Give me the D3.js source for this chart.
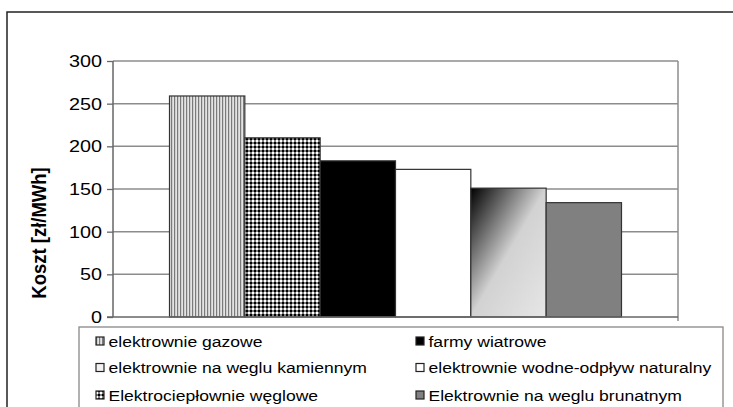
<!DOCTYPE html>
<html><head><meta charset="utf-8">
<script src="https://cdn.jsdelivr.net/npm/d3@7"></script>
<style>body{margin:0;background:#fff}svg{display:block}text{font-family:"Liberation Sans",Arial,sans-serif;fill:#000}</style>
</head><body>
<script>
// ---- data ----
const categories = ["elektrownie gazowe","Elektrociepłownie węglowe","farmy wiatrowe","elektrownie wodne-odpływ naturalny","elektrownie na weglu kamiennym","Elektrownie na weglu brunatnym"];
const values = [259, 210, 183, 173, 151, 134];
const fills = ["url(#stripes)","url(#checker)","#000000","#ffffff","url(#grad)","#808080"];
const legendOrder = ["elektrownie gazowe","farmy wiatrowe","elektrownie na weglu kamiennym","elektrownie wodne-odpływ naturalny","Elektrociepłownie węglowe","Elektrownie na weglu brunatnym"];
const legendSwatch = {"elektrownie na weglu kamiennym":"#f2f2f2"};
const yTicks = [0,50,100,150,200,250,300];
const yTitle = "Koszt [zł/MWh]";

const W=733,H=407;
const svg=d3.select("body").append("svg").attr("width",W).attr("height",H);
const defs=svg.append("defs");
const p1=defs.append("pattern").attr("id","stripes").attr("patternUnits","userSpaceOnUse").attr("width",3).attr("height",3);
p1.append("rect").attr("width",3).attr("height",3).attr("fill","#e4e4e4");
p1.append("rect").attr("width",1.2).attr("height",3).attr("fill","#7a7a7a");
const p2=defs.append("pattern").attr("id","checker").attr("patternUnits","userSpaceOnUse").attr("width",4).attr("height",4);
p2.append("rect").attr("width",4).attr("height",4).attr("fill","#808080");
p2.append("rect").attr("width",2).attr("height",2).attr("fill","#ffffff");
p2.append("rect").attr("x",2).attr("y",2).attr("width",2).attr("height",2).attr("fill","#000000");
const g1=defs.append("linearGradient").attr("id","grad").attr("x1",0).attr("y1",0).attr("x2",1).attr("y2",1);
g1.append("stop").attr("offset",0).attr("stop-color","#000");
g1.append("stop").attr("offset",0.5).attr("stop-color","#d2d2d2");
g1.append("stop").attr("offset",1).attr("stop-color","#e6e6e6");

function txt(sel,x,y,s,opt={}){
  const t=sel.append("text").attr("transform",`translate(${x},${y}) scale(${opt.sx||1.17},1)`).text(s)
   .attr("font-size",opt.size||16).attr("text-anchor",opt.anchor||"start");
  if(opt.weight)t.attr("font-weight",opt.weight);
  if(opt.dy)t.attr("dy",opt.dy);
  return t;
}

// outer frame
svg.append("path").attr("d",`M7,${H+5}V12H${W+5}`).attr("fill","none").attr("stroke","#222").attr("stroke-width",1.5);

const L=113,R=678,T=61,B=317;
const y=d3.scaleLinear().domain([0,300]).range([B,T]);
const x=d3.scaleBand().domain(categories).range([L,R]).paddingInner(0).paddingOuter(0.75);

// gridlines
svg.append("g").selectAll("line").data(yTicks.filter(d=>d>0)).join("line")
 .attr("x1",L).attr("x2",R).attr("y1",d=>y(d)).attr("y2",d=>y(d)).attr("stroke","#8c8c8c").attr("stroke-width",1.5);
svg.append("line").attr("x1",R).attr("x2",R).attr("y1",T).attr("y2",B+4).attr("stroke","#8c8c8c").attr("stroke-width",1.5);

// bars
svg.append("g").selectAll("rect").data(categories).join("rect")
 .attr("x",d=>x(d)).attr("width",x.bandwidth()).attr("y",(d,i)=>y(values[i])).attr("height",(d,i)=>B-y(values[i]))
 .attr("fill",(d,i)=>fills[i]).attr("stroke","#333").attr("stroke-width",1.2);

// axes
const ya=svg.append("g").attr("transform",`translate(${L},0)`).call(d3.axisLeft(y).tickValues(yTicks).tickSize(6).tickPadding(5).tickFormat(d3.format("d")));
ya.select(".domain").remove();
ya.selectAll(".tick line").attr("stroke","#666").attr("stroke-width",1.3);
ya.selectAll(".tick text").remove();
yTicks.forEach(v=>txt(svg,L-11,y(v),String(v),{anchor:"end",dy:"0.36em",size:16.5,sx:1.2}));
svg.append("line").attr("x1",L).attr("x2",L).attr("y1",T).attr("y2",B).attr("stroke","#666").attr("stroke-width",1.5);
svg.append("line").attr("x1",L-6).attr("x2",R).attr("y1",B).attr("y2",B).attr("stroke","#666").attr("stroke-width",1.5);

// y title
svg.append("text").attr("transform",`translate(45.5,233) rotate(-90) scale(1,1.12)`).attr("text-anchor","middle")
 .attr("font-size",18.5).attr("font-weight","bold").text(yTitle);

// legend
const lg=svg.append("g");
lg.append("rect").attr("x",79).attr("y",327).attr("width",644).attr("height",100).attr("fill","#fff").attr("stroke","#888").attr("stroke-width",1.3);
const colX=[96,416], rowY=[346.5,373,400.5];
legendOrder.forEach((name,i)=>{
  const c=i%2, r=Math.floor(i/2);
  const idx=categories.indexOf(name);
  lg.append("rect").attr("x",colX[c]).attr("y",rowY[r]-9.5).attr("width",8).attr("height",8)
   .attr("fill",legendSwatch[name]||fills[idx]).attr("stroke","#222").attr("stroke-width",1.2);
  txt(lg,colX[c]+12.5,rowY[r],name,{size:15});
});
</script>
</body></html>
